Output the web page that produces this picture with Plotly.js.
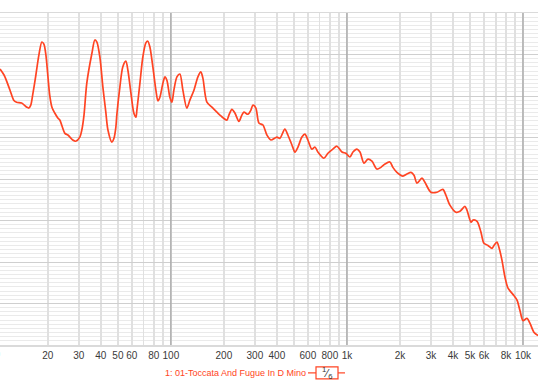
<!DOCTYPE html>
<html><head><meta charset="utf-8">
<script src="https://cdn.plot.ly/plotly-3.0.1.min.js"></script>
<style>html,body{margin:0;padding:0;background:#fff;}#chart{width:538px;height:382px;}</style>
</head><body><div id="chart"></div>
<script>
const freq = [10.7,11.3,12.2,12.8,13.3,14.2,15.2,15.6,16.0,16.4,
17.1,17.8,18.5,19.0,19.5,20.0,20.5,21.1,21.9,22.8,
23.4,25.0,26.0,27.7,28.8,30.4,31.2,32.1,33.3,35.6,
37.0,38.0,39.5,41.1,42.7,43.9,46.2,47.5,48.7,49.3,
51.3,53.3,55.5,57.0,59.3,61.6,63.3,64.1,66.7,69.3,
72.1,74.0,76.0,79.0,82.2,84.4,86.6,90.1,92.5,94.9,
98.7,101.4,104.0,108.2,112.5,117.0,123.2,128.2,135.2,142.4,
148.0,152.0,160.2,171.0,182.5,192.2,208.0,213.6,222.2,231.0,
243.4,253.0,260.0,273.8,284.8,292.4,304.0,316.2,333.4,351,
370,400,416,444,462,487,507,527,555,577,
600,632,658,684,740,780,832,877,937,986,
1040,1082,1140,1186,1250,1316,1387,1479,1560,1644,
1754,1824,1923,2080,2193,2312,2404,2500,2667,2773,
3000,3243,3508,3648,3846,4159,4385,4677,4806,5070,
5200,5483,5770,6000,6324,6668,6840,7112,7305,7600,
7906,8222,8770,9250,9614,10000,10540,10966,11560,12170];
const level = [-13.5,-15.0,-18.6,-21.0,-21.5,-21.7,-22.7,-22.9,-22.2,-19.8,
-15.0,-10.1,-7.0,-7.5,-10.1,-15.0,-19.8,-22.7,-24.1,-25.3,
-25.8,-29.0,-29.4,-30.6,-30.9,-29.9,-28.2,-24.6,-16.9,-9.7,
-6.5,-7.0,-10.6,-17.9,-23.9,-28.2,-31.1,-30.2,-27.5,-24.6,
-17.9,-13.0,-11.6,-13.8,-19.3,-24.1,-25.1,-23.4,-16.9,-10.6,
-7.2,-6.8,-8.2,-13.0,-18.6,-21.2,-20.3,-16.9,-15.4,-16.2,
-20.3,-21.5,-18.6,-15.4,-14.7,-18.6,-22.9,-21.0,-18.6,-15.4,
-14.2,-15.7,-21.5,-22.7,-23.9,-24.8,-25.8,-24.6,-23.2,-24.1,
-26.1,-24.6,-23.9,-24.4,-23.4,-22.2,-22.9,-26.5,-27.0,-29.4,
-30.6,-29.9,-30.2,-28.0,-29.4,-31.8,-33.5,-32.3,-29.9,-29.2,
-30.6,-32.8,-32.3,-33.5,-35.0,-33.8,-32.8,-32.1,-33.5,-33.8,
-34.7,-33.5,-32.8,-33.5,-36.2,-35.2,-35.7,-37.6,-37.2,-36.4,
-35.9,-37.2,-38.4,-39.3,-38.8,-38.4,-39.1,-41.0,-39.8,-40.8,
-43.2,-43.2,-42.5,-43.9,-46.3,-48.0,-47.8,-46.6,-47.5,-50.4,
-49.9,-50.2,-52.8,-55.5,-56.0,-56.7,-56.0,-55.2,-56.5,-59.6,
-63.7,-66.3,-67.8,-69.2,-71.7,-74.1,-73.6,-74.8,-77.0,-77.7];

const tickVals = [10,20,30,40,50,60,70,80,90,100,200,300,400,500,600,700,800,900,1000,2000,3000,4000,5000,6000,7000,8000,9000,10000];
const tickText = ['10','20','30','40','50','60','','80','','100','200','300','400','','600','','800','','1k','2k','3k','4k','5k','6k','','8k','','10k'];
const decadeLines = [100,1000,10000];
const legendLabel = '1: 01-Toccata And Fugue In D Mino';
const smoothingLabel = '<sup>1</sup>⁄<sub>6</sub>';

const xr = [Math.log10(10.7), Math.log10(12170)];
const yr = [-80, 0];
const font = 'Liberation Sans, Arial, Helvetica, sans-serif';
const red = '#ff4423';

const traces = decadeLines.map(f => ({
  x: [f, f], y: yr, mode: 'lines', hoverinfo: 'skip', showlegend: false,
  line: {color: '#a3a3a3', width: 1.2}
}));
traces.push({
  x: freq, y: level, mode: 'lines', showlegend: false,
  line: {color: red, width: 1.7, shape: 'spline', smoothing: 0.8}
});

// label of the 10 Hz tick lying just left of the plotted range
const px10 = (Math.log10(tickVals[0]) - xr[0]) / (xr[1] - xr[0]);
const legY = -0.084;

const layout = {
  width: 538, height: 382,
  margin: {l: 0, r: 0, t: 13, b: 37, pad: 0},
  paper_bgcolor: '#fff', plot_bgcolor: '#fff',
  showlegend: false,
  font: {family: font, size: 10, color: '#3a3a3a'},
  xaxis: {
    type: 'log', range: xr, tickmode: 'array', tickvals: tickVals, ticktext: tickText,
    showgrid: true, gridcolor: '#e0e0e0', gridwidth: 1.6,
    ticks: '', ticklen: 0, zeroline: false,
    showline: true, mirror: true, linecolor: '#dadada', linewidth: 1.5,
    tickfont: {family: font, size: 10, color: '#3a3a3a'}, fixedrange: true
  },
  yaxis: {
    range: yr, dtick: 10, showticklabels: false, ticks: '',
    showgrid: true, gridcolor: '#cfcfcf', gridwidth: 1,
    minor: {dtick: 1, showgrid: true, gridcolor: '#eaeaea', gridwidth: 1, ticks: ''},
    zeroline: false, showline: false, fixedrange: true
  },
  annotations: [
    {xref: 'paper', yref: 'paper', x: px10, y: 0, yanchor: 'top', xanchor: 'center', yshift: -2,
     text: String(tickVals[0]), showarrow: false, font: {family: font, size: 10, color: '#3a3a3a'}},
    {xref: 'paper', yref: 'paper', x: 308/538, y: legY, xanchor: 'right', yanchor: 'middle',
     text: legendLabel, showarrow: false, font: {family: font, size: 9, color: red}},
    {xref: 'paper', yref: 'paper', x: 327/538, y: legY, xanchor: 'center', yanchor: 'middle',
     text: smoothingLabel, showarrow: false, font: {family: font, size: 11, color: '#333'}}
  ],
  shapes: [
    {type: 'line', xref: 'paper', yref: 'paper', x0: 308/538, x1: 316/538, y0: legY, y1: legY, line: {color: red, width: 1.2}},
    {type: 'line', xref: 'paper', yref: 'paper', x0: 338/538, x1: 345/538, y0: legY, y1: legY, line: {color: red, width: 1.2}},
    {type: 'rect', xref: 'paper', yref: 'paper', x0: 316/538, x1: 338/538, y0: legY - 6/332, y1: legY + 6/332,
     line: {color: red, width: 1.2}, fillcolor: 'rgba(0,0,0,0)', layer: 'below'}
  ]
};
Plotly.newPlot('chart', traces, layout, {displayModeBar: false, staticPlot: true});
</script></body></html>
